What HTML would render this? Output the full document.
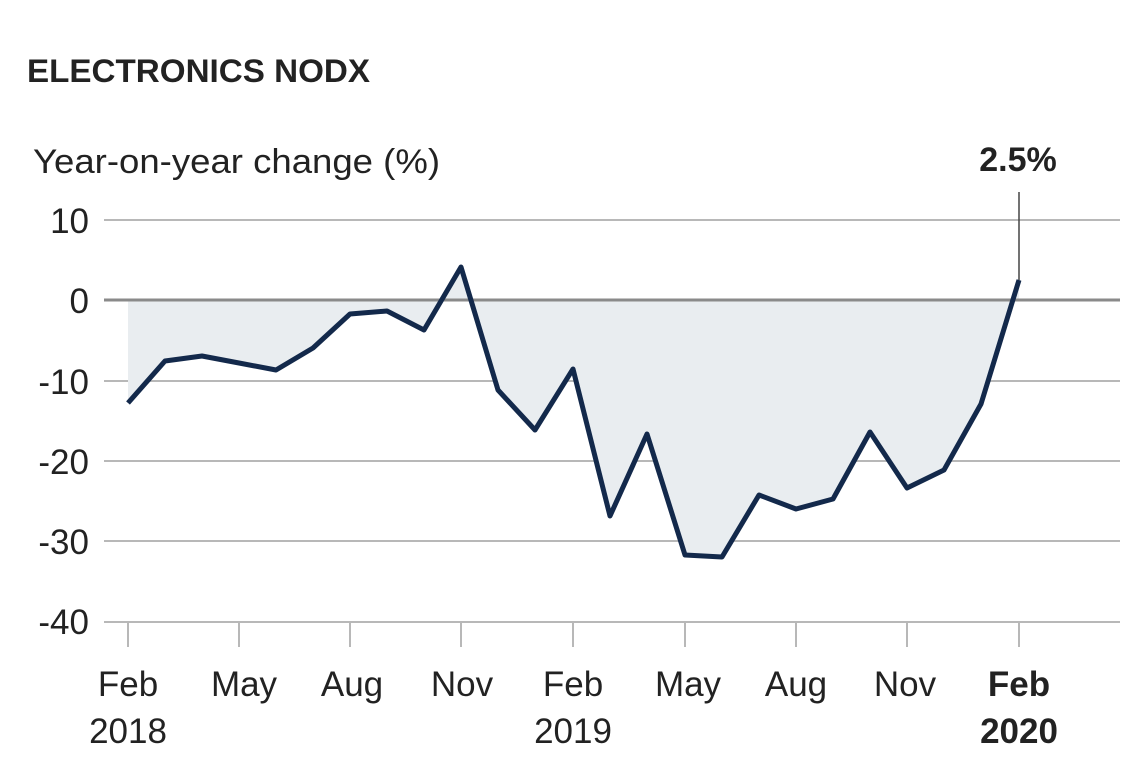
<!DOCTYPE html>
<html><head><style>
body{margin:0;background:#fff;}
svg{display:block;font-family:"Liberation Sans",sans-serif;}
</style></head><body>
<svg width="1140" height="760" viewBox="0 0 1140 760">
<text x="27" y="82" font-size="32" font-weight="bold" fill="#222" textLength="343" lengthAdjust="spacingAndGlyphs">ELECTRONICS NODX</text>
<text x="33" y="173" font-size="34" fill="#222" textLength="407" lengthAdjust="spacingAndGlyphs">Year-on-year change (%)</text>
<g stroke="#b8b8b8" stroke-width="2">
<line x1="104" y1="220" x2="1120" y2="220"/>
<line x1="104" y1="381" x2="1120" y2="381"/>
<line x1="104" y1="461" x2="1120" y2="461"/>
<line x1="104" y1="541" x2="1120" y2="541"/>
<line x1="104" y1="622" x2="1120" y2="622"/>
<line x1="128" y1="622" x2="128" y2="647"/><line x1="239" y1="622" x2="239" y2="647"/>
<line x1="350" y1="622" x2="350" y2="647"/><line x1="461" y1="622" x2="461" y2="647"/>
<line x1="573" y1="622" x2="573" y2="647"/><line x1="685" y1="622" x2="685" y2="647"/>
<line x1="796" y1="622" x2="796" y2="647"/><line x1="907" y1="622" x2="907" y2="647"/>
<line x1="1019" y1="622" x2="1019" y2="647"/>
</g>
<polygon fill="#e9edf0" points="128,300 128,403 165,361 202,356 239,363 276,370 313,348 350,314 387,311 424,330 461,267 498,390 535,430 573,369 610,516 647,434 685,555 722,557 759,495 796,509 833,499 870,432 907,488 944,470 981,404 1019,280 1019,300"/>
<line x1="104" y1="300" x2="1120" y2="300" stroke="#8a8a8a" stroke-width="3"/>
<line x1="1019" y1="192" x2="1019" y2="280" stroke="#444" stroke-width="1.5"/>
<polyline fill="none" stroke="#13294b" stroke-width="5" stroke-linejoin="round" points="128,403 165,361 202,356 239,363 276,370 313,348 350,314 387,311 424,330 461,267 498,390 535,430 573,369 610,516 647,434 685,555 722,557 759,495 796,509 833,499 870,432 907,488 944,470 981,404 1019,280"/>
<g font-size="35" fill="#222" text-anchor="end">
<text x="89" y="233">10</text><text x="89" y="313">0</text><text x="89" y="394">-10</text>
<text x="89" y="474">-20</text><text x="89" y="554">-30</text><text x="89" y="634">-40</text>
</g>
<text x="1018" y="171" font-size="34" font-weight="bold" fill="#222" text-anchor="middle">2.5%</text>
<g font-size="35" fill="#222" text-anchor="middle">
<text x="128" y="696">Feb</text><text x="128" y="743">2018</text>
<text x="244" y="696">May</text><text x="352" y="696">Aug</text><text x="462" y="696">Nov</text>
<text x="573" y="696">Feb</text><text x="573" y="743">2019</text>
<text x="688" y="696">May</text><text x="796" y="696">Aug</text><text x="905" y="696">Nov</text>
<text x="1019" y="696" font-weight="bold">Feb</text><text x="1019" y="743" font-weight="bold">2020</text>
</g>
</svg>
</body></html>
